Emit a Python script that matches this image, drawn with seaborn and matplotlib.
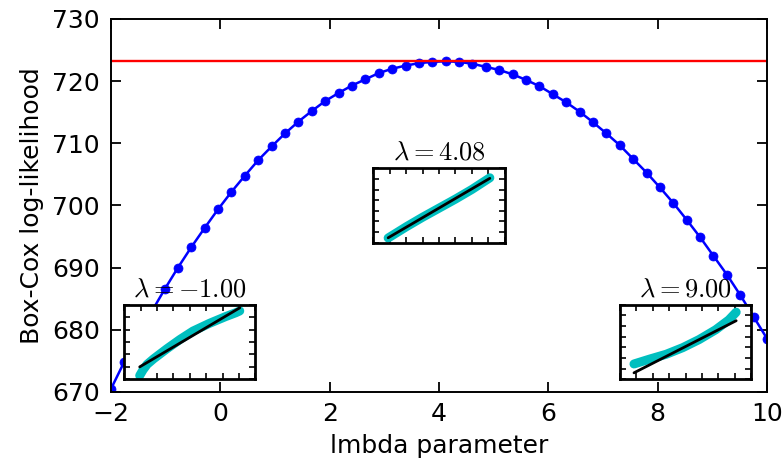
import matplotlib
matplotlib.use("Agg")
import matplotlib.pyplot as plt
import seaborn as sns
from matplotlib.ticker import MultipleLocator, NullFormatter

# ================= DATOS =================
lmbdas = [-2.000, -1.755, -1.510, -1.265, -1.020, -0.776, -0.531, -0.286, -0.041, 0.204,
          0.449, 0.694, 0.939, 1.184, 1.429, 1.673, 1.918, 2.163, 2.408, 2.653,
          2.898, 3.143, 3.388, 3.633, 3.878, 4.122, 4.367, 4.612, 4.857, 5.102,
          5.347, 5.592, 5.837, 6.082, 6.327, 6.571, 6.816, 7.061, 7.306, 7.551,
          7.796, 8.041, 8.286, 8.531, 8.776, 9.020, 9.265, 9.510, 9.755, 10.000]
llf = [670.5, 674.9, 678.9, 682.8, 686.5, 690.0, 693.3, 696.4, 699.4, 702.2,
       704.8, 707.3, 709.5, 711.6, 713.5, 715.2, 716.8, 718.1, 719.3, 720.3,
       721.3, 722.0, 722.5, 722.9, 723.1, 723.2, 723.1, 722.8, 722.3, 721.8,
       721.1, 720.2, 719.2, 717.9, 716.6, 715.1, 713.4, 711.6, 709.7, 707.5,
       705.3, 702.9, 700.4, 697.7, 694.9, 691.9, 688.9, 685.6, 682.1, 678.6]
llf_optimo = 723.2
lmbda_optimo = 4.08

# probplots de los insets (unidades arbitrarias, sin etiquetas)
inset_lmbdas = [-1.00, lmbda_optimo, 9.00]
inset_osm = [
    [-3.05, -2.85, -2.6, -2.2, -1.4, -0.6, 0.2, 1.2, 2.2, 2.8, 3.05],
    [-3.1, -2.0, -1.0, 0.0, 1.0, 2.0, 3.1],
    [-3.15, -2.19, -1.19, -0.18, 0.82, 1.83, 2.63, 3.08],
]
inset_osr = [
    [0.3, 0.75, 1.2, 1.65, 2.45, 3.2, 3.88, 4.5, 5.05, 5.35, 5.5],
    [0.45, 1.5, 2.4, 3.25, 4.1, 5.0, 6.1],
    [1.44, 1.90, 2.35, 2.97, 3.73, 4.65, 5.57, 6.3],
]
inset_fit_x = [[-3.05, 3.05], [-3.1, 3.1], [-3.15, 3.08]]
inset_fit_y = [[1.0, 5.75], [0.47, 6.05], [0.61, 5.5]]
inset_ylim = [6, 7, 7]
inset_pos = [[0.02, 0.034, 0.2, 0.2], [0.4, 0.4, 0.2, 0.2], [0.776, 0.034, 0.2, 0.2]]

# ================= ESTILO =================
sns.set_style("ticks")
plt.rcParams['font.family'] = ['DejaVu Sans']
plt.rcParams['mathtext.fontset'] = 'cm'
plt.rcParams['font.size'] = 18
for clave in ['text.color', 'axes.labelcolor', 'xtick.color', 'ytick.color', 'axes.edgecolor']:
    plt.rcParams[clave] = 'black'

fig = plt.figure(figsize=(7.82, 4.70), dpi=100)
ax = fig.add_axes([111 / 782, 1 - 392 / 470, 656 / 782, 373 / 470])

sns.lineplot(x=lmbdas, y=llf, ax=ax, color='blue', linewidth=1.8,
             marker='o', markersize=6.5, markeredgecolor='blue', markeredgewidth=0.5)
ax.axhline(llf_optimo, color='red', linewidth=1.7)

ax.set_xlim(-2, 10)
ax.set_ylim(670, 730)
ax.xaxis.set_major_locator(MultipleLocator(2))
ax.yaxis.set_major_locator(MultipleLocator(10))
ax.tick_params(direction='in', top=True, right=True, length=7, width=1.3,
               labelsize=18, colors='black')
ax.tick_params(axis='x', pad=7)
ax.tick_params(axis='y', pad=8)
for s in ax.spines.values():
    s.set_linewidth(1.4)
    s.set_color('black')
ax.set_xlabel('lmbda parameter', fontsize=18, labelpad=6, color='black')
ax.set_ylabel('Box-Cox log-likelihood', fontsize=18, labelpad=6, color='black')

# ================= INSETS =================
for k in range(3):
    axi = ax.inset_axes(inset_pos[k])
    axi.set_facecolor('white')
    sns.lineplot(x=inset_osm[k], y=inset_osr[k], ax=axi, color='#00bfbf',
                 linewidth=6.5, solid_capstyle='round', sort=False)
    sns.lineplot(x=inset_fit_x[k], y=inset_fit_y[k], ax=axi, color='black',
                 linewidth=2)
    axi.set_xlim(-4, 4)
    axi.set_ylim(0, inset_ylim[k])
    axi.xaxis.set_major_locator(MultipleLocator(1))
    axi.yaxis.set_major_locator(MultipleLocator(1))
    axi.xaxis.set_major_formatter(NullFormatter())
    axi.yaxis.set_major_formatter(NullFormatter())
    axi.tick_params(direction='in', top=True, right=True, length=4.5, width=1.2,
                    colors='black')
    for s in axi.spines.values():
        s.set_linewidth(2.0)
        s.set_color('black')
    axi.set_title(r'$\lambda=%1.2f$' % inset_lmbdas[k], fontsize=19, pad=6, color='black')

fig.savefig('out.png', dpi=100)
